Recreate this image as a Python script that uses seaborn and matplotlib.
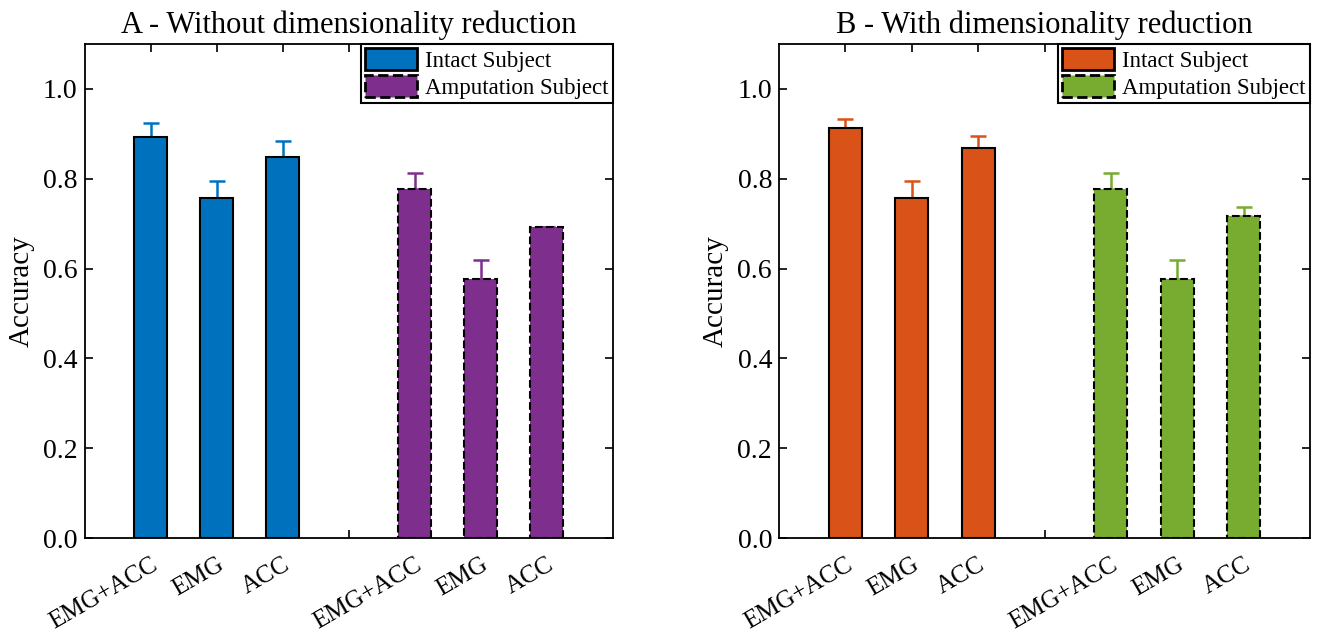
import numpy as np
import pandas as pd
import matplotlib
matplotlib.use("Agg")
import matplotlib.pyplot as plt
import seaborn as sns
from matplotlib.patches import Patch

# ---- data ----
features = ["EMG+ACC", "EMG", "ACC"]
intact_pos = [1, 2, 3]
amput_pos = [5, 6, 7]
tick_labels = ["EMG+ACC", "EMG", "ACC", "", "EMG+ACC", "EMG", "ACC"]

a_intact = [0.892, 0.758, 0.849]
a_intact_err = [0.032, 0.038, 0.034]
a_amput = [0.778, 0.576, 0.693]
a_amput_err = [0.035, 0.043, 0.0]

b_intact = [0.913, 0.758, 0.869]
b_intact_err = [0.020, 0.038, 0.027]
b_amput = [0.778, 0.576, 0.716]
b_amput_err = [0.035, 0.043, 0.020]

titles = ["A - Without dimensionality reduction", "B - With dimensionality reduction"]
colors = [("#0072BD", "#7E2F8E"), ("#D95319", "#77AC30")]

sns.set_style("ticks")
plt.rcParams["font.family"] = ["Liberation Serif", "DejaVu Serif"]
for k in ["text.color", "axes.labelcolor", "xtick.color", "ytick.color", "axes.edgecolor"]:
    plt.rcParams[k] = "black"

fig = plt.figure(figsize=(13.2, 6.34), dpi=100)
ax_a = fig.add_axes([84.5 / 1320, 96 / 634, 528.5 / 1320, 494 / 634])
ax_b = fig.add_axes([779 / 1320, 96 / 634, 531 / 1320, 494 / 634])

panels = [
    (ax_a, a_intact, a_intact_err, a_amput, a_amput_err),
    (ax_b, b_intact, b_intact_err, b_amput, b_amput_err),
]

for i, (ax, iv, ie, av, ae) in enumerate(panels):
    c_int, c_amp = colors[i]
    df_i = pd.DataFrame({"pos": intact_pos, "acc": iv, "feature": features})
    df_a = pd.DataFrame({"pos": amput_pos, "acc": av, "feature": features})
    sns.barplot(data=df_i, x="pos", y="acc", native_scale=True, width=0.5,
                color=c_int, saturation=1, edgecolor="black", linewidth=1.5,
                errorbar=None, ax=ax, zorder=2)
    sns.barplot(data=df_a, x="pos", y="acc", native_scale=True, width=0.5,
                color=c_amp, saturation=1, edgecolor="black", linewidth=1.5,
                linestyle="--", errorbar=None, ax=ax, zorder=2)
    ax.errorbar(intact_pos, iv, yerr=[np.zeros(3), ie], fmt="none",
                ecolor=c_int, elinewidth=1.8, capsize=6, capthick=1.8, zorder=1)
    ax.errorbar(amput_pos, av, yerr=[np.zeros(3), ae], fmt="none",
                ecolor=c_amp, elinewidth=1.8, capsize=6, capthick=1.8, zorder=1)

    ax.set_xlim(0, 8)
    ax.set_ylim(0, 1.1)
    ax.set_xticks(range(1, 8))
    ax.set_xticklabels(tick_labels, rotation=30, ha="right",
                       rotation_mode="anchor", fontsize=18)
    ax.set_yticks(np.arange(0, 1.01, 0.2))
    ax.set_yticklabels([f"{v:.1f}" for v in np.arange(0, 1.01, 0.2)], fontsize=20)
    ax.tick_params(direction="in", top=True, right=True, length=6, width=1.2)
    ax.tick_params(axis="y", pad=5)
    ax.tick_params(axis="x", pad=11)
    ax.set_xlabel("")
    ax.set_ylabel("Accuracy", fontsize=21)
    ax.yaxis.set_label_coords(-0.094, 0.5)
    ax.set_title(titles[i], fontsize=22, pad=8)
    for sp in ax.spines.values():
        sp.set_linewidth(1.3)
        sp.set_visible(True)

    handles = [
        Patch(facecolor=c_int, edgecolor="black", linewidth=2, label="Intact Subject"),
        Patch(facecolor=c_amp, edgecolor="black", linewidth=2, linestyle="--",
              label="Amputation Subject"),
    ]
    leg = ax.legend(handles=handles, loc="upper right", fontsize=16.5,
                    frameon=True, fancybox=False, edgecolor="black",
                    borderaxespad=0, borderpad=0.18, labelspacing=0.13,
                    handlelength=2.27, handleheight=1.1, handletextpad=0.35)
    leg.get_frame().set_linewidth(1.5)
    leg.get_frame().set_alpha(1)

fig.savefig("out.png", dpi=100)
